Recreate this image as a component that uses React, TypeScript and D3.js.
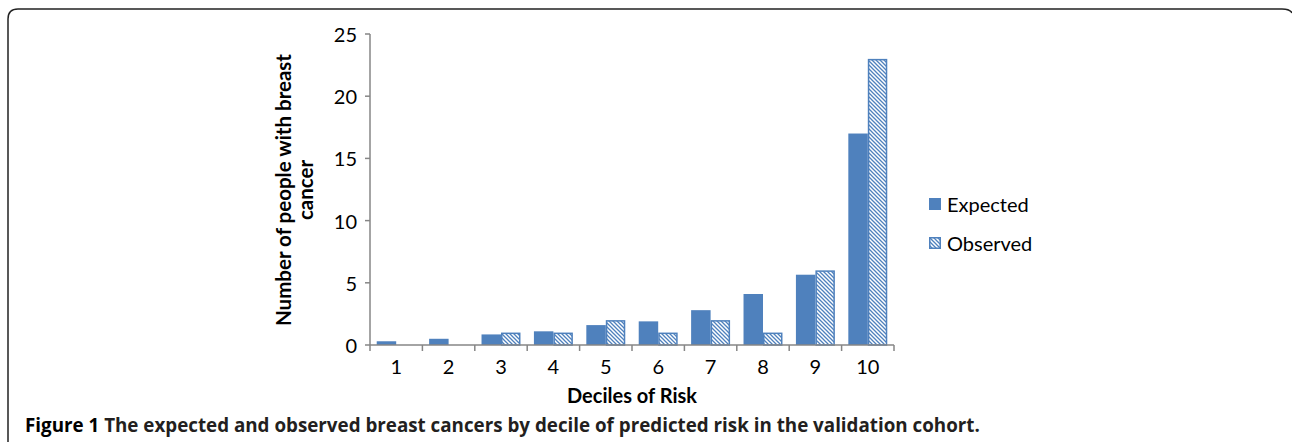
import React from "react";
import * as d3 from "d3";

const categories = ["1", "2", "3", "4", "5", "6", "7", "8", "9", "10"];
const expected = [0.3, 0.5, 0.85, 1.1, 1.6, 1.9, 2.8, 4.1, 5.65, 17];
const observed = [0, 0, 1, 1, 2, 1, 2, 1, 6, 23];
const yTicks = [0, 5, 10, 15, 20, 25];
const seriesNames = ["Expected", "Observed"];

const W = 1292;
const H = 442;
const plot = { left: 370, right: 894, top: 34, bottom: 345 };
const BLUE = "#4f81bd";
const FONT = "Lato, 'Open Sans', sans-serif";
const FS = 20;

export default function App() {
  const x = d3
    .scaleBand<string>()
    .domain(categories)
    .range([plot.left, plot.right])
    .paddingInner(0)
    .paddingOuter(0);
  const inner = d3
    .scaleBand<string>()
    .domain(seriesNames)
    .range([0, x.bandwidth()])
    .paddingInner(0)
    .paddingOuter(0.345);
  const y = d3.scaleLinear().domain([0, 25]).range([plot.bottom, plot.top]);

  const tickXs = categories.map((c) => x(c) as number).concat([plot.right]);

  return (
    <svg
      width={W}
      height={H}
      style={{ position: "absolute", left: 0, top: 0, display: "block", background: "#fff" }}
    >
      <defs>
        <pattern id="hatch" patternUnits="userSpaceOnUse" width="4" height="4">
          <rect width="4" height="4" fill="#fff" />
          <path d="M-1,-1 L5,5 M-1,3 L1,5 M3,-1 L5,1" stroke={BLUE} strokeWidth="1.3" />
        </pattern>
      </defs>
      {/* frame */}
      <path
        d={`M8,${H + 5} L8,19 Q8,9 18,9 L1282,9 Q1290,9 1292,13`}
        fill="none"
        stroke="#222"
        strokeWidth="1.5"
      />

      {/* bars */}
      {categories.map((c, i) => {
        const x0 = x(c) as number;
        return (
          <g key={c}>
            {expected[i] > 0 && (
              <rect
                x={x0 + (inner("Expected") as number)}
                y={y(expected[i])}
                width={inner.bandwidth()}
                height={y(0) - y(expected[i])}
                fill={BLUE}
              />
            )}
            {observed[i] > 0 && (
              <rect
                x={x0 + (inner("Observed") as number) + 0.75}
                y={y(observed[i]) + 0.75}
                width={inner.bandwidth() - 1.5}
                height={y(0) - y(observed[i]) - 0.75}
                fill="url(#hatch)"
                stroke={BLUE}
                strokeWidth="1.5"
              />
            )}
          </g>
        );
      })}

      {/* y axis */}
      <line x1={plot.left} x2={plot.left} y1={plot.top} y2={plot.bottom} stroke="#868686" strokeWidth="1.5" />
      {yTicks.map((t) => (
        <g key={t}>
          <line x1={plot.left - 5} x2={plot.left} y1={y(t)} y2={y(t)} stroke="#868686" strokeWidth="1.5" />
          <text
            x={plot.left - 13}
            y={y(t)}
            textAnchor="end"
            dominantBaseline="central"
            fontFamily={FONT}
            fontSize={FS}
            fill="#000"
          >
            {t}
          </text>
        </g>
      ))}

      {/* x axis */}
      <line x1={plot.left} x2={plot.right} y1={plot.bottom} y2={plot.bottom} stroke="#868686" strokeWidth="1.5" />
      {tickXs.map((tx, i) => (
        <line key={i} x1={tx} x2={tx} y1={plot.bottom} y2={plot.bottom + 6} stroke="#868686" strokeWidth="1.5" />
      ))}
      {categories.map((c) => (
        <text
          key={c}
          x={(x(c) as number) + x.bandwidth() / 2}
          y={366}
          textAnchor="middle"
          dominantBaseline="central"
          fontFamily={FONT}
          fontSize={FS}
          fill="#000"
        >
          {c}
        </text>
      ))}

      {/* axis titles */}
      <text
        x={632}
        y={395}
        textAnchor="middle"
        dominantBaseline="central"
        fontFamily={FONT}
        fontWeight="bold"
        fontSize={FS}
        fill="#000"
      >
        Deciles of Risk
      </text>
      <g transform="translate(283,190) rotate(-90)">
        <text textAnchor="middle" dominantBaseline="central" fontFamily={FONT} fontWeight="bold" fontSize={20.5} fill="#000">
          Number of people with breast
        </text>
        <text y={22} textAnchor="middle" dominantBaseline="central" fontFamily={FONT} fontWeight="bold" fontSize={20.5} fill="#000">
          cancer
        </text>
      </g>

      {/* legend */}
      <rect x={929} y={198} width={12} height={12} fill={BLUE} />
      <text x={947} y={204} dominantBaseline="central" fontFamily={FONT} fontSize={FS} fill="#000">
        Expected
      </text>
      <rect x={929.75} y={237.75} width={10.5} height={10.5} fill="url(#hatch)" stroke={BLUE} strokeWidth="1.5" />
      <text x={947} y={243} dominantBaseline="central" fontFamily={FONT} fontSize={FS} fill="#000">
        Observed
      </text>

      {/* caption */}
      <text x={25} y={432} fontFamily="'Open Sans', sans-serif" fontWeight="bold" fontSize={18.8} fill="#231f20">
        <tspan fill="#000">Figure 1</tspan>
        <tspan> The expected and observed breast cancers by decile of predicted risk in the validation cohort.</tspan>
      </text>
    </svg>
  );
}
